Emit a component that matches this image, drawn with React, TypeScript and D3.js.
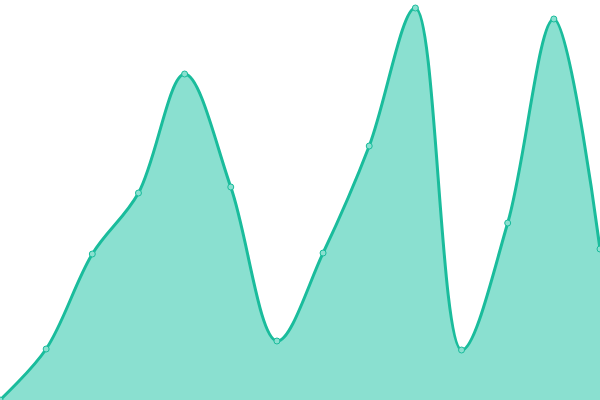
import React, {useEffect, useRef} from 'react';
import * as d3 from 'd3';

const width = 600;
const height = 400;

// category index along the x axis, one per point
const categories = d3.range(14);
// values (y axis 0..400)
const values = [0, 51, 146, 207, 326, 213, 59, 147, 254, 392, 50, 177, 381, 151];

const lineColor = '#1abc9c';
const areaColor = '#8ae0d0';

const App: React.FC = () => {
    const svgRef = useRef<SVGSVGElement | null>(null);

    useEffect(() => {
        const svg = d3.select(svgRef.current);
        svg.selectAll('*').remove();

        const xScale = d3.scaleLinear()
            .domain([0, categories.length - 1])
            .range([0, width]);

        const yScale = d3.scaleLinear()
            .domain([0, 400])
            .range([height, 0]);

        const points: [number, number][] = categories.map((c, i) => [c, values[i]]);

        const area = d3.area<[number, number]>()
            .x(d => xScale(d[0]))
            .y0(yScale(0))
            .y1(d => yScale(d[1]))
            .curve(d3.curveCatmullRom);

        const line = d3.line<[number, number]>()
            .x(d => xScale(d[0]))
            .y(d => yScale(d[1]))
            .curve(d3.curveCatmullRom);

        svg.append('path')
            .datum(points)
            .attr('d', area)
            .attr('fill', areaColor);

        svg.append('path')
            .datum(points)
            .attr('d', line)
            .attr('fill', 'none')
            .attr('stroke', lineColor)
            .attr('stroke-width', 3);

        // little markers on each data point
        svg.selectAll('circle')
            .data(points)
            .enter()
            .append('circle')
            .attr('cx', d => xScale(d[0]))
            .attr('cy', d => yScale(d[1]))
            .attr('r', 3)
            .attr('fill', areaColor)
            .attr('stroke', lineColor)
            .attr('stroke-width', 1);
    }, []);

    return (
        <svg ref={svgRef} width={width} height={height}
             style={{position: 'absolute', left: 0, top: 0}}></svg>
    );
};

export default App;
